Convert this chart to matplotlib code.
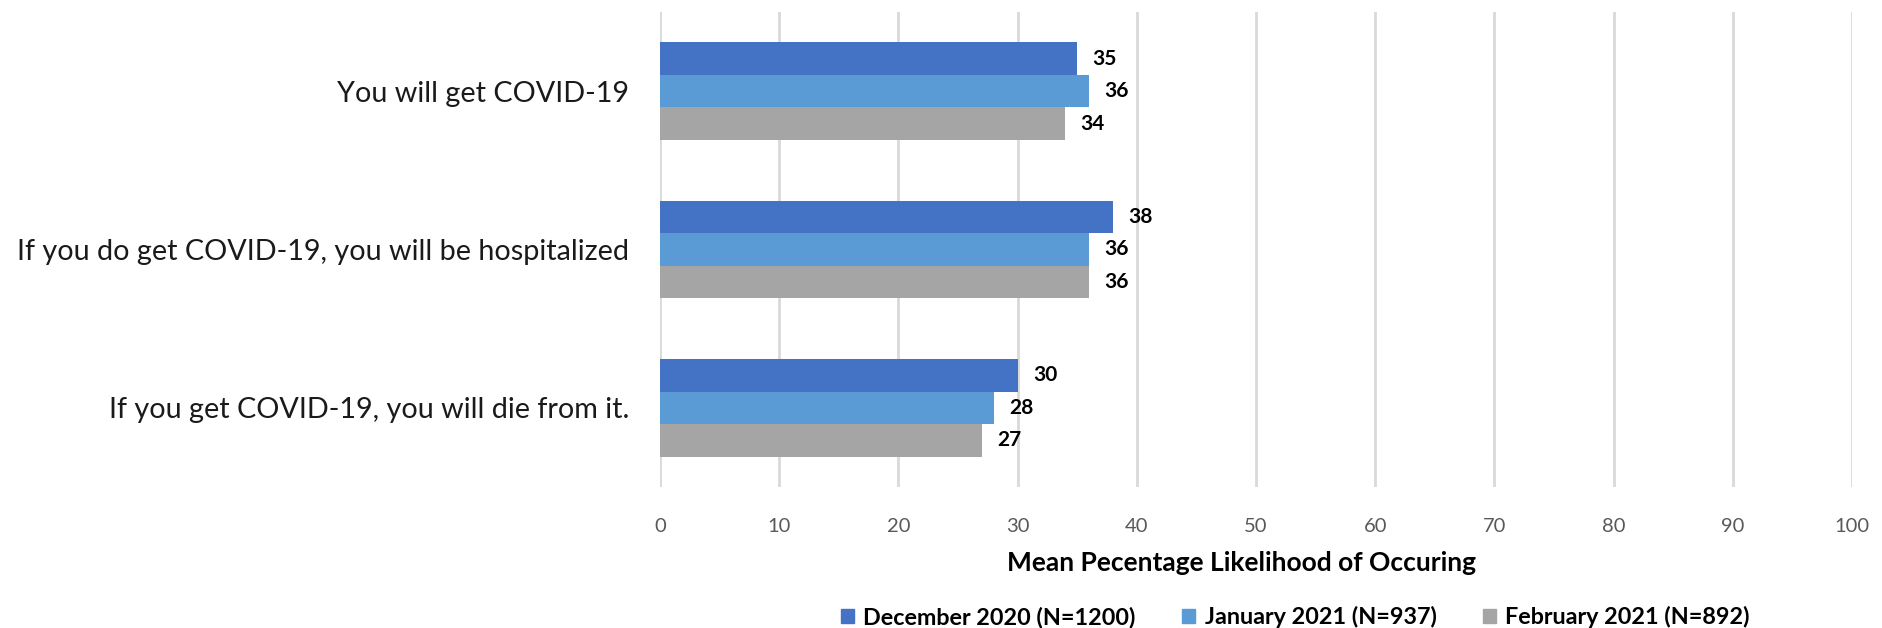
import numpy as np
import matplotlib
matplotlib.use('Agg')
import matplotlib.pyplot as plt
from matplotlib.patches import Patch

plt.rcParams['font.family'] = ['Lato', 'DejaVu Sans']

# chart data
questions = ['You will get COVID-19',
             'If you do get COVID-19, you will be hospitalized',
             'If you get COVID-19, you will die from it.']
series_names = ['December 2020 (N=1200)', 'January 2021 (N=937)', 'February 2021 (N=892)']
dec_2020 = [35, 38, 30]
jan_2021 = [36, 36, 28]
feb_2021 = [34, 36, 27]
x_ticks = [0, 10, 20, 30, 40, 50, 60, 70, 80, 90, 100]

colors = ['#4472C4', '#5B9BD5', '#A5A5A5']

fig = plt.figure(figsize=(18.83, 6.28), dpi=100)
ax = fig.add_axes([0.3505, 0.2245, 0.633, 0.7565])

y = np.arange(len(questions))
h = 0.205
all_series = [dec_2020, jan_2021, feb_2021]
for i, vals in enumerate(all_series):
    bars = ax.barh(y + (i - 1) * h, vals, height=h, color=colors[i], zorder=3)
    ax.bar_label(bars, padding=11, fontsize=15, fontweight='bold', color='black')

ax.set_xlim(0, 100)
ax.set_ylim(-0.5, len(questions) - 0.5)
ax.invert_yaxis()
ax.set_xticks(x_ticks)
ax.set_yticks(y)
ax.set_yticklabels(questions, fontsize=20.7, color='#1a1a1a')
ax.tick_params(axis='y', length=0, pad=22)
ax.tick_params(axis='x', length=0, pad=22, labelsize=14.5, labelcolor='#595959')
ax.grid(axis='x', color='#D9D9D9', linewidth=2, zorder=0)
for s in ax.spines.values():
    s.set_visible(False)

ax.set_xlabel('Mean Pecentage Likelihood of Occuring', fontsize=19, fontweight='bold',
              labelpad=11)
ax.xaxis.set_label_coords(0.488, -0.135)

handles = [Patch(color=c) for c in colors]
fig.legend(handles, series_names, loc='center', bbox_to_anchor=(0.688, 0.0175), ncol=3,
           frameon=False, handlelength=0.55, handleheight=0.55, handletextpad=0.4,
           columnspacing=2.0, prop={'size': 16.8, 'weight': 'bold'})

fig.savefig('out.png', dpi=100)
